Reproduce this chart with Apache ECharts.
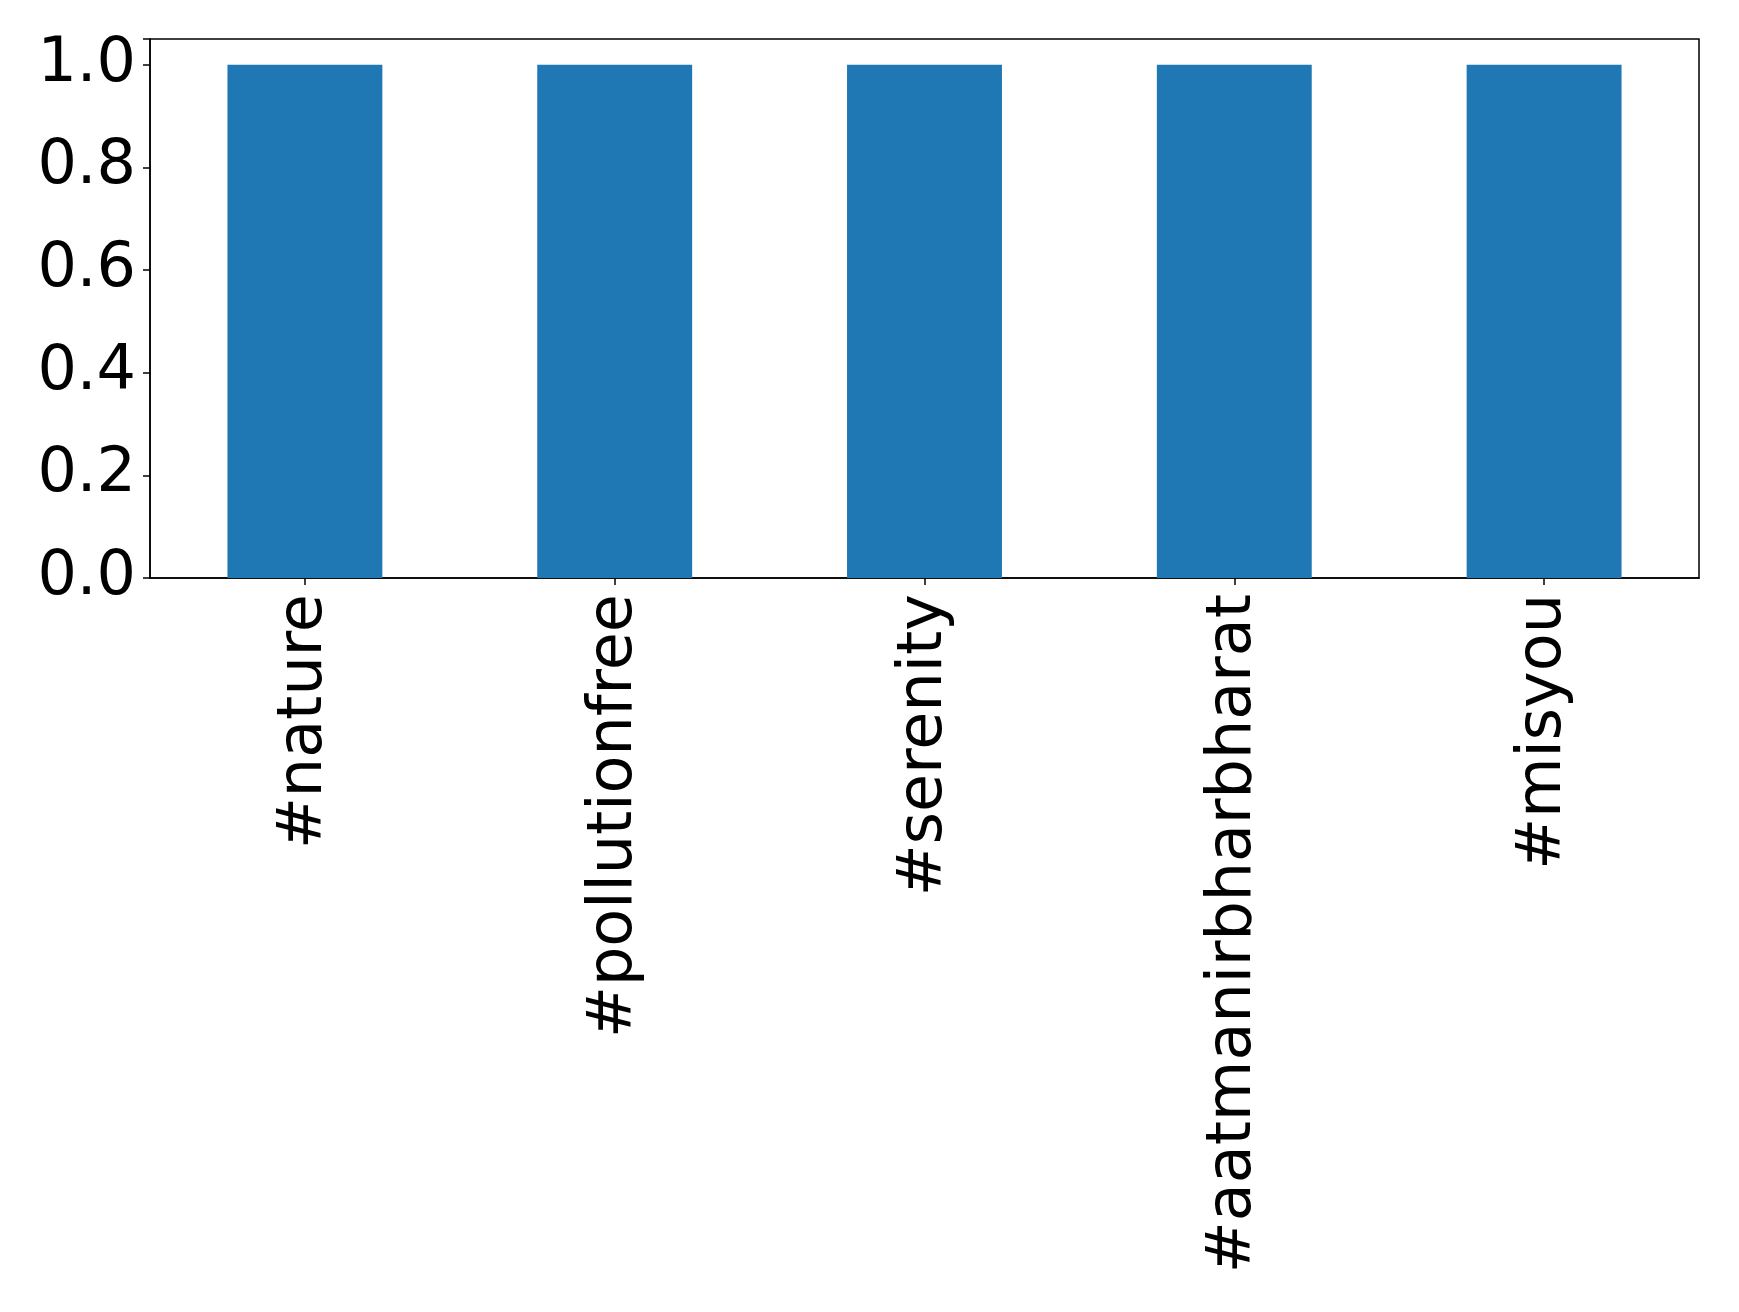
<!DOCTYPE html>
<html>
<head>
<meta charset="utf-8">
<script src="https://cdn.jsdelivr.net/npm/echarts@6/dist/echarts.min.js"></script>
<style>
html,body{margin:0;padding:0;background:#fff;}
#chart{width:1739px;height:1312px;}
</style>
</head>
<body>
<div id="chart"></div>
<script>
const categories = ['#nature', '#pollutionfree', '#serenity', '#aatmanirbharbharat', '#misyou'];
const values = [1, 1, 1, 1, 1];
const yTicks = [0, 0.2, 0.4, 0.6, 0.8, 1.0];

const chart = echarts.init(document.getElementById('chart'), null, {renderer: 'canvas'});
const font = 'DejaVu Sans';
chart.setOption({
  animation: false,
  backgroundColor: '#ffffff',
  grid: {
    left: 150, top: 39, width: 1549, height: 539,
    show: true, borderColor: '#000', borderWidth: 1.5, backgroundColor: 'transparent'
  },
  xAxis: {
    type: 'category',
    data: categories,
    boundaryGap: true,
    axisLine: {show: true, lineStyle: {color: '#000', width: 1.5}},
    axisTick: {show: true, alignWithLabel: true, length: 7, lineStyle: {color: '#000', width: 1.5}},
    axisLabel: {rotate: 90, margin: 16, fontFamily: font, fontSize: 62, color: '#000', interval: 0},
    splitLine: {show: false}
  },
  yAxis: {
    type: 'value',
    min: 0, max: 1.05,
    interval: 0.2,
    axisLine: {show: true, lineStyle: {color: '#000', width: 1.5}},
    axisTick: {show: true, length: 7, lineStyle: {color: '#000', width: 1.5}},
    axisLabel: {
      margin: 14, fontFamily: font, fontSize: 62, color: '#000',
      formatter: function (v) {
        const hit = yTicks.find(t => Math.abs(t - v) < 1e-9);
        return hit === undefined ? '' : hit.toFixed(1);
      }
    },
    splitLine: {show: false}
  },
  series: [{
    type: 'bar',
    data: values,
    barWidth: '50%',
    itemStyle: {color: '#1f77b4'}
  }]
});
</script>
</body>
</html>
